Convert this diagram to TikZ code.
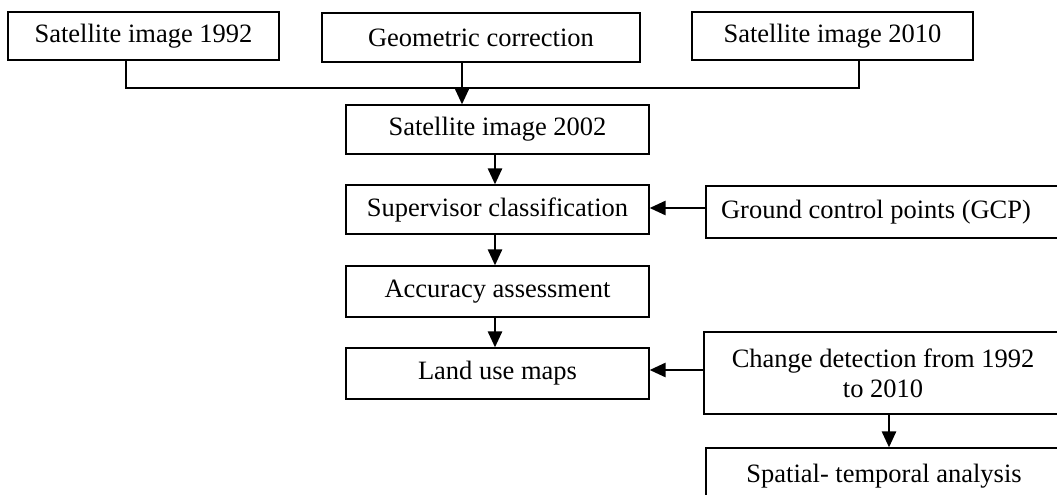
\documentclass[tikz,border=0pt]{standalone}
\usepackage{fontspec}
\setmainfont{Liberation Serif}
\usetikzlibrary{arrows.meta}
\begin{document}
\begin{tikzpicture}[x=1pt,y=-1pt,
  box/.style={draw, line width=1.2pt, inner sep=0pt, font=\fontsize{26.5}{30}\selectfont},
  lbl/.style={inner sep=0pt, font=\fontsize{26.5}{30}\selectfont, align=center},
  arr/.style={line width=2.6pt, -{Triangle[length=16pt,width=14pt]}},
  ln/.style={line width=1.2pt}]
\useasboundingbox (0,0) rectangle (1057,495);
% boxes
\node[box, minimum width=271pt, minimum height=48pt] (s92) at (143.5,36) {Satellite image 1992};
\node[box, minimum width=318pt, minimum height=49pt] (geo) at (481,37.5) {Geometric correction};
\node[box, minimum width=281pt, minimum height=48pt] (s10) at (832.5,36) {Satellite image 2010};
\node[box, minimum width=303pt, minimum height=49pt] (s02) at (497.5,129.5) {Satellite image 2002};
\node[box, minimum width=303pt, minimum height=49pt] (sup) at (497.5,209.5) {Supervisor classification};
\node[box, minimum width=303pt, minimum height=51pt] (acc) at (497.5,291.5) {Accuracy assessment};
\node[box, minimum width=303pt, minimum height=51pt] (land) at (497.5,373.5) {Land use maps};
\node[box, minimum width=364pt, minimum height=52pt] (gcpbox) at (888,212) {};
\node[lbl] (gcp) at (876,212) {Ground control points (GCP)};
\node[box, minimum width=366pt, minimum height=82pt] (chgbox) at (887,373) {};
\node[lbl] (chg) at (883,373) {Change detection from 1992\\to 2010};
\node[box, minimum width=364pt, minimum height=62pt] (spabox) at (888,479) {};
\node[lbl, anchor=base] (spa) at (884,482) {Spatial- temporal analysis};
% helper coordinates
\coordinate (j1) at (126,88);
\coordinate (j2) at (859,88);
\coordinate (gx) at (462,0);
\coordinate (ax) at (495,0);
\coordinate (cx) at (889,0);
% connectors
\draw[ln] (s92.south -| j1) -- (j1) -- (j2) -- (s10.south -| j2);
\draw[arr] (geo.south -| gx) -- (s02.north -| gx);
\draw[arr] (s02.south -| ax) -- (sup.north -| ax);
\draw[arr] (sup.south -| ax) -- (acc.north -| ax);
\draw[arr] (acc.south -| ax) -- (land.north -| ax);
\draw[arr] (gcpbox.west |- 0,208) -- (sup.east |- 0,208);
\draw[arr] (chgbox.west |- 0,370) -- (land.east |- 0,370);
\draw[arr] (chgbox.south -| cx) -- (spabox.north -| cx);
\end{tikzpicture}
\end{document}
